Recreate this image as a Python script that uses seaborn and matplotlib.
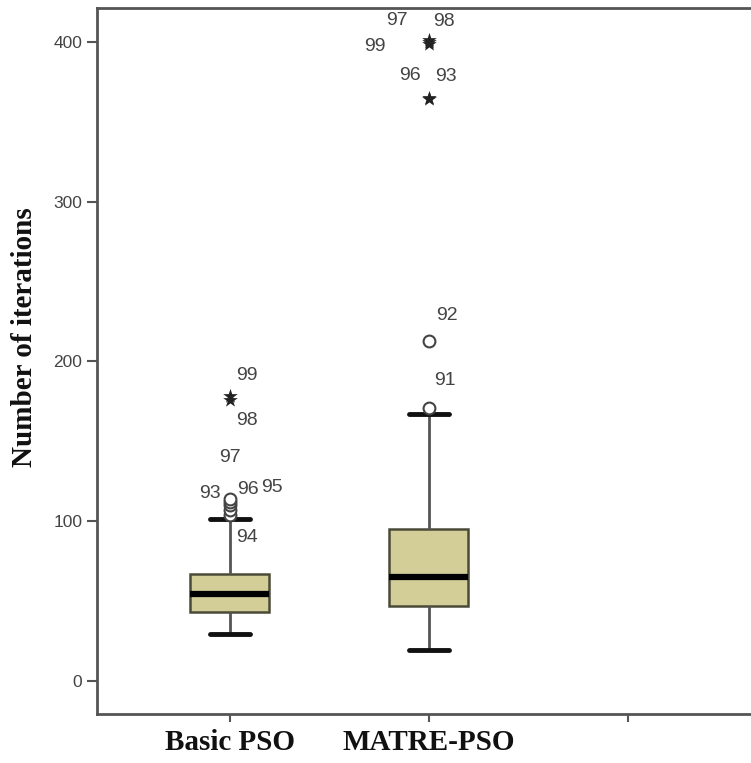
import pandas as pd
import matplotlib.pyplot as plt
import seaborn as sns

# five-number summaries: lower whisker, Q1, median, Q3, upper whisker
groups = ['Basic PSO', 'MATRE-PSO']
basic_summary = [29, 43, 54, 67, 101]
matre_summary = [19, 47, 65, 95, 167]

# outliers (case id, value, kind)
basic_out_ids = ['94', '95', '96', '93', '97', '98', '99']
basic_out_vals = [104, 107, 110, 112, 114, 176, 178]
basic_out_kind = ['o', 'o', 'o', 'o', 'o', '*', '*']
matre_out_ids = ['91', '92', '93', '96', '98', '97', '99']
matre_out_vals = [171, 213, 364, 365, 400, 401, 399]
matre_out_kind = ['o', 'o', '*', '*', '*', '*', '*']

# label offsets (pixels) from each outlier marker
basic_lbl_off = [(17, -23), (42, 22), (18, 15), (-20, 8), (0, 41), (17, -21), (17, 21)]
matre_lbl_off = [(16, 27), (18, 25), (17, 23), (-19, 22), (15, 20), (-32, 20), (-54, -3)]

sns.set_style('ticks')
plt.rcParams['font.family'] = ['Liberation Sans', 'DejaVu Sans']

df = pd.DataFrame({
    'group': ['Basic PSO'] * 5 + ['MATRE-PSO'] * 5,
    'value': basic_summary + matre_summary,
})
out = pd.DataFrame({
    'group': ['Basic PSO'] * len(basic_out_vals) + ['MATRE-PSO'] * len(matre_out_vals),
    'value': basic_out_vals + matre_out_vals,
    'kind': basic_out_kind + matre_out_kind,
    'id': basic_out_ids + matre_out_ids,
})
offsets = basic_lbl_off + matre_lbl_off

fig = plt.figure(figsize=(7.51, 7.63), dpi=100)
ax = fig.add_axes([0.129, 0.064, 0.95, 0.925])

sns.boxplot(data=df, x='group', y='value', order=groups, ax=ax,
            whis=(0, 100), width=0.4, showfliers=False,
            color='#d3cd97', linecolor='#3a3a30', linewidth=1.8,
            saturation=1,
            boxprops=dict(edgecolor='#4a4a38', linewidth=1.8),
            whiskerprops=dict(color='#555555', linewidth=2),
            capprops=dict(color='#111111', linewidth=3.5),
            medianprops=dict(color='black', linewidth=4.5))

circ = out[out['kind'] == 'o']
star = out[out['kind'] == '*']
sns.stripplot(data=circ, x='group', y='value', order=groups, ax=ax, jitter=False,
              marker='o', size=8.5, color='white', edgecolor='#444444', linewidth=1.5)
sns.stripplot(data=star, x='group', y='value', order=groups, ax=ax, jitter=False,
              marker='*', size=11, color='#222222', linewidth=0)

for (g, v, lab), (dx, dy) in zip(out[['group', 'value', 'id']].values, offsets):
    ax.annotate(lab, (groups.index(g), v), xytext=(dx * 0.72, dy * 0.72),
                textcoords='offset points', ha='center', va='center',
                fontsize=14, color='#444444')

# xlim chosen so the right spine falls outside the cropped picture
ax.set_xlim(-0.667, 2.918)
ax.set_ylim(-21, 421)
ax.set_xticks([0, 1, 2])
ax.set_xticklabels(groups + [''], fontsize=21, fontweight='bold',
                   family='Liberation Serif', color='#111111')
ax.set_yticks([0, 100, 200, 300, 400])
ax.tick_params(axis='y', labelsize=12.5, labelcolor='#444444', length=7, width=1.5, color='#555555')
ax.tick_params(axis='x', length=6, width=1.5, color='#555555', pad=5)
ax.set_xlabel('')
ax.set_ylabel('Number of iterations', fontsize=21, fontweight='bold',
              family='Liberation Serif', color='#111111')
ax.yaxis.set_label_coords(-0.083, 0.534)
for s in ax.spines.values():
    s.set_color('#555555')
    s.set_linewidth(2)

plt.savefig('out.png', dpi=100)
plt.close()
